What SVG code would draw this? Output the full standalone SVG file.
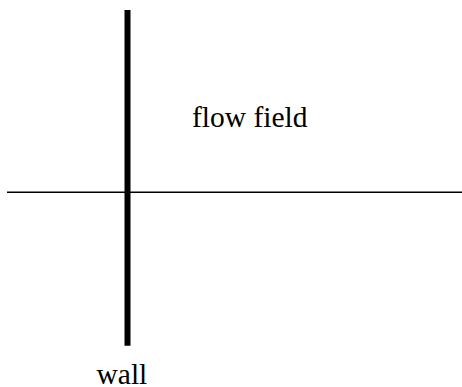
<svg xmlns="http://www.w3.org/2000/svg" width="462" height="387" viewBox="0 0 462 387">
<style>
.lbl{font-family:"Liberation Serif","Times New Roman",serif;font-size:29.5px;fill:#000}
</style>
<rect width="462" height="387" fill="#fff"/>
<g id="connectors">
<line x1="7" y1="192.3" x2="462" y2="192.3" stroke="#000" stroke-width="1.6"/>
</g>
<g id="wall">
<line x1="127.5" y1="10" x2="127.5" y2="345.7" stroke="#000" stroke-width="6"/>
<text class="lbl" x="96.5" y="384">wall</text>
</g>
<g id="flowfield">
<text class="lbl" x="192" y="127.3">flow field</text>
</g>
</svg>
